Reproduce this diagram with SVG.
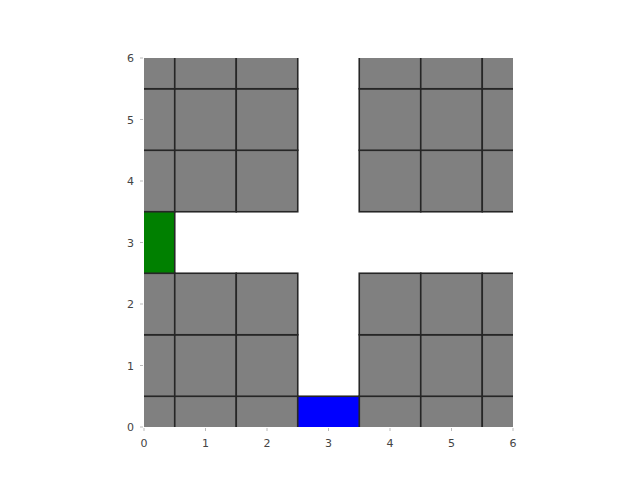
<svg xmlns="http://www.w3.org/2000/svg" width="640" height="480" viewBox="0 0 640 480">
<style>
.g{fill:#808080;stroke:#262626;stroke-width:1.6}
.b{fill:#0000ff;stroke:#262626;stroke-width:1.6}
.gr{fill:#008000;stroke:#262626;stroke-width:1.6}
.t{font-family:"DejaVu Sans",sans-serif;font-size:11px;fill:#444}
.tk{stroke:#aaa;stroke-width:0.8}
</style>
<defs>
<clipPath id="ax"><rect x="144" y="58" width="369" height="369"/></clipPath>
</defs>
<rect width="640" height="480" fill="#fff"/>
<g id="grid" clip-path="url(#ax)">
<rect class="g" x="113.25" y="396.25" width="61.5" height="61.5"/>
<rect class="g" x="174.75" y="396.25" width="61.5" height="61.5"/>
<rect class="g" x="236.25" y="396.25" width="61.5" height="61.5"/>
<rect class="g" x="359.25" y="396.25" width="61.5" height="61.5"/>
<rect class="g" x="420.75" y="396.25" width="61.5" height="61.5"/>
<rect class="g" x="482.25" y="396.25" width="61.5" height="61.5"/>
<rect class="g" x="113.25" y="334.75" width="61.5" height="61.5"/>
<rect class="g" x="174.75" y="334.75" width="61.5" height="61.5"/>
<rect class="g" x="236.25" y="334.75" width="61.5" height="61.5"/>
<rect class="g" x="359.25" y="334.75" width="61.5" height="61.5"/>
<rect class="g" x="420.75" y="334.75" width="61.5" height="61.5"/>
<rect class="g" x="482.25" y="334.75" width="61.5" height="61.5"/>
<rect class="g" x="113.25" y="273.25" width="61.5" height="61.5"/>
<rect class="g" x="174.75" y="273.25" width="61.5" height="61.5"/>
<rect class="g" x="236.25" y="273.25" width="61.5" height="61.5"/>
<rect class="g" x="359.25" y="273.25" width="61.5" height="61.5"/>
<rect class="g" x="420.75" y="273.25" width="61.5" height="61.5"/>
<rect class="g" x="482.25" y="273.25" width="61.5" height="61.5"/>
<rect class="g" x="113.25" y="150.25" width="61.5" height="61.5"/>
<rect class="g" x="174.75" y="150.25" width="61.5" height="61.5"/>
<rect class="g" x="236.25" y="150.25" width="61.5" height="61.5"/>
<rect class="g" x="359.25" y="150.25" width="61.5" height="61.5"/>
<rect class="g" x="420.75" y="150.25" width="61.5" height="61.5"/>
<rect class="g" x="482.25" y="150.25" width="61.5" height="61.5"/>
<rect class="g" x="113.25" y="88.75" width="61.5" height="61.5"/>
<rect class="g" x="174.75" y="88.75" width="61.5" height="61.5"/>
<rect class="g" x="236.25" y="88.75" width="61.5" height="61.5"/>
<rect class="g" x="359.25" y="88.75" width="61.5" height="61.5"/>
<rect class="g" x="420.75" y="88.75" width="61.5" height="61.5"/>
<rect class="g" x="482.25" y="88.75" width="61.5" height="61.5"/>
<rect class="g" x="113.25" y="27.25" width="61.5" height="61.5"/>
<rect class="g" x="174.75" y="27.25" width="61.5" height="61.5"/>
<rect class="g" x="236.25" y="27.25" width="61.5" height="61.5"/>
<rect class="g" x="359.25" y="27.25" width="61.5" height="61.5"/>
<rect class="g" x="420.75" y="27.25" width="61.5" height="61.5"/>
<rect class="g" x="482.25" y="27.25" width="61.5" height="61.5"/>
</g>
<g id="start" clip-path="url(#ax)">
<rect class="gr" x="113.25" y="211.75" width="61.5" height="61.5"/>
</g>
<g id="goal" clip-path="url(#ax)">
<rect class="b" x="297.75" y="396.25" width="61.5" height="61.5"/>
</g>
<g id="ticks">
<line class="tk" x1="140" y1="427" x2="143" y2="427"/>
<line class="tk" x1="140" y1="365.5" x2="143" y2="365.5"/>
<line class="tk" x1="140" y1="304" x2="143" y2="304"/>
<line class="tk" x1="140" y1="242.5" x2="143" y2="242.5"/>
<line class="tk" x1="140" y1="181" x2="143" y2="181"/>
<line class="tk" x1="140" y1="119.5" x2="143" y2="119.5"/>
<line class="tk" x1="140" y1="58" x2="143" y2="58"/>
<line class="tk" x1="144" y1="428" x2="144" y2="431"/>
<line class="tk" x1="205.5" y1="428" x2="205.5" y2="431"/>
<line class="tk" x1="267" y1="428" x2="267" y2="431"/>
<line class="tk" x1="328.5" y1="428" x2="328.5" y2="431"/>
<line class="tk" x1="390" y1="428" x2="390" y2="431"/>
<line class="tk" x1="451.5" y1="428" x2="451.5" y2="431"/>
<line class="tk" x1="513" y1="428" x2="513" y2="431"/>
</g>
<g id="labels" class="t">
<text x="134" y="431" text-anchor="end">0</text>
<text x="134" y="369.5" text-anchor="end">1</text>
<text x="134" y="308" text-anchor="end">2</text>
<text x="134" y="246.5" text-anchor="end">3</text>
<text x="134" y="185" text-anchor="end">4</text>
<text x="134" y="123.5" text-anchor="end">5</text>
<text x="134" y="62" text-anchor="end">6</text>
<text x="144" y="447" text-anchor="middle">0</text>
<text x="205.5" y="447" text-anchor="middle">1</text>
<text x="267" y="447" text-anchor="middle">2</text>
<text x="328.5" y="447" text-anchor="middle">3</text>
<text x="390" y="447" text-anchor="middle">4</text>
<text x="451.5" y="447" text-anchor="middle">5</text>
<text x="513" y="447" text-anchor="middle">6</text>
</g>
</svg>
